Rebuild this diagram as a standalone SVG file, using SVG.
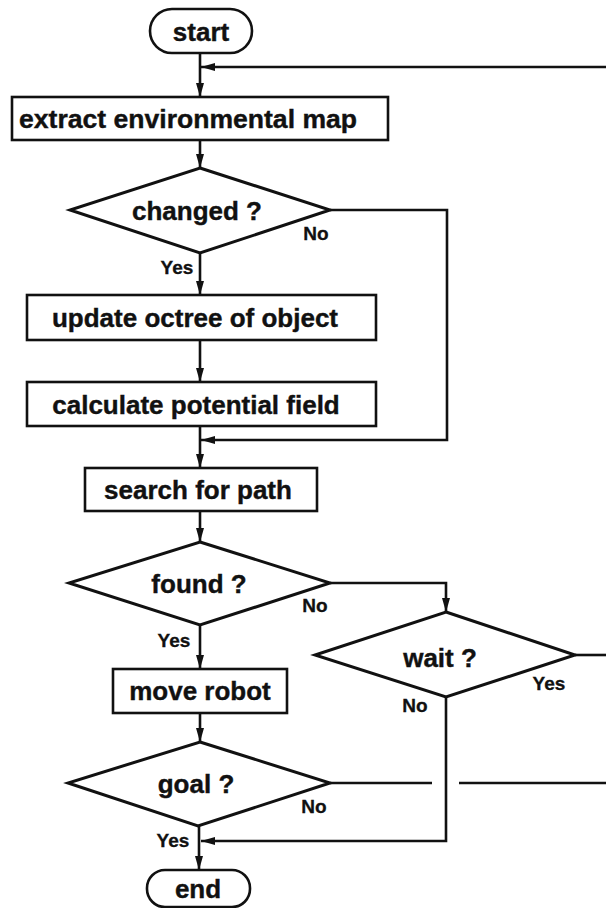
<svg xmlns="http://www.w3.org/2000/svg" width="606" height="908" viewBox="0 0 606 908">
<defs>
<style>
.shape{fill:#fff;stroke:#111;stroke-width:2.6}
.dia{fill:#fff;stroke:#111;stroke-width:3}
.t{font-family:"Liberation Sans",Arial,sans-serif;font-weight:bold;font-size:26px;fill:#111;stroke:#111;stroke-width:0.4;text-anchor:middle}
.lbl{font-family:"Liberation Sans",Arial,sans-serif;font-weight:bold;font-size:19px;fill:#111;stroke:#111;stroke-width:0.3;text-anchor:middle}
.c{fill:none;stroke:#111;stroke-width:2.6}
</style>
<marker id="ah" viewBox="0 0 14 8" refX="14" refY="4" markerWidth="14" markerHeight="8" markerUnits="userSpaceOnUse" orient="auto">
<path d="M0,0 L14,4 L0,8 Z" fill="#111"/>
</marker>
</defs>
<rect width="606" height="908" fill="#fff"/>
<g id="connectors">
<line class="c" x1="200" y1="53" x2="200" y2="97" marker-end="url(#ah)"/>
<line class="c" x1="606" y1="67" x2="201" y2="67" marker-end="url(#ah)"/>
<line class="c" x1="200" y1="140" x2="200" y2="168" marker-end="url(#ah)"/>
<polyline class="c" points="330,210 447,210 447,440 201,440" marker-end="url(#ah)"/>
<line class="c" x1="200" y1="253" x2="200" y2="295" marker-end="url(#ah)"/>
<line class="c" x1="200" y1="340" x2="200" y2="382" marker-end="url(#ah)"/>
<line class="c" x1="200" y1="426" x2="200" y2="468" marker-end="url(#ah)"/>
<line class="c" x1="200" y1="511" x2="200" y2="542" marker-end="url(#ah)"/>
<polyline class="c" points="330,583 446,583 446,612" marker-end="url(#ah)"/>
<line class="c" x1="575" y1="655" x2="606" y2="655"/>
<line class="c" x1="200" y1="625" x2="200" y2="669" marker-end="url(#ah)"/>
<polyline class="c" points="446,697 446,841 201,841" marker-end="url(#ah)"/>
<line class="c" x1="200" y1="713" x2="200" y2="742" marker-end="url(#ah)"/>
<line class="c" x1="330" y1="783" x2="432" y2="783"/>
<line class="c" x1="459" y1="783" x2="606" y2="783"/>
<line class="c" x1="199" y1="826" x2="199" y2="870" marker-end="url(#ah)"/>
</g>
<g id="start">
<rect class="shape" x="150" y="9" width="102" height="44" rx="22"/>
<text class="t" x="201" y="41">start</text>
</g>
<g id="extract">
<rect class="shape" x="12" y="97" width="376" height="43"/>
<text class="t" x="188" y="128" textLength="338" lengthAdjust="spacingAndGlyphs">extract environmental map</text>
</g>
<g id="changed">
<polygon class="dia" points="200,168 330,210 200,253 70,210"/>
<text class="t" x="197" y="220">changed ?</text>
<text class="lbl" x="316" y="240">No</text>
<text class="lbl" x="177" y="274">Yes</text>
</g>
<g id="update">
<rect class="shape" x="27" y="295" width="349" height="45"/>
<text class="t" x="195" y="327">update octree of object</text>
</g>
<g id="calculate">
<rect class="shape" x="27" y="382" width="349" height="44"/>
<text class="t" x="196" y="414">calculate potential field</text>
</g>
<g id="search">
<rect class="shape" x="85" y="468" width="232" height="43"/>
<text class="t" x="198" y="499">search for path</text>
</g>
<g id="found">
<polygon class="dia" points="200,542 330,583 200,625 69,583"/>
<text class="t" x="199" y="593">found ?</text>
<text class="lbl" x="315" y="612">No</text>
<text class="lbl" x="174" y="647">Yes</text>
</g>
<g id="wait">
<polygon class="dia" points="446,612 575,655 446,697 315,655"/>
<text class="t" x="440" y="667">wait ?</text>
<text class="lbl" x="549" y="690">Yes</text>
<text class="lbl" x="415" y="712">No</text>
</g>
<g id="move">
<rect class="shape" x="113" y="669" width="174" height="44"/>
<text class="t" x="200" y="700">move robot</text>
</g>
<g id="goal">
<polygon class="dia" points="200,742 330,783 198,826 68,783"/>
<text class="t" x="196" y="793">goal ?</text>
<text class="lbl" x="314" y="813">No</text>
<text class="lbl" x="173" y="847">Yes</text>
</g>
<g id="end">
<rect class="shape" x="147" y="870" width="103" height="37" rx="18"/>
<text class="t" x="198" y="898">end</text>
</g>
</svg>
